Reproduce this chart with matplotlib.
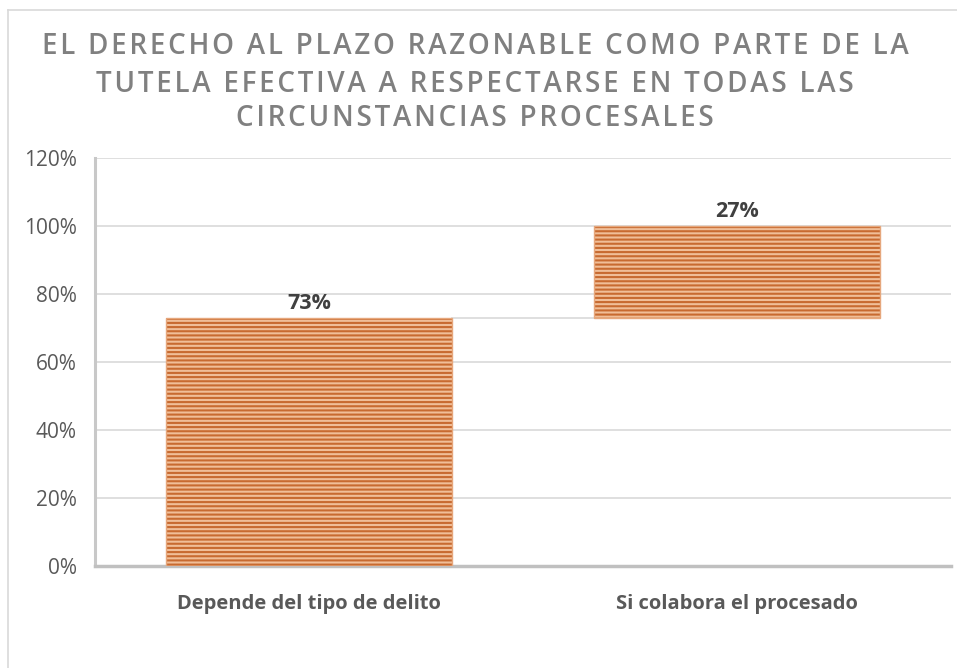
import matplotlib
matplotlib.use("Agg")
import matplotlib.pyplot as plt
from matplotlib.lines import Line2D

categories = ["Depende del tipo de delito", "Si colabora el procesado"]
values = [73, 27]
labels = ["73%", "27%"]
yticks = [0, 20, 40, 60, 80, 100, 120]
title = "EL DERECHO AL PLAZO RAZONABLE COMO PARTE DE LA\nTUTELA EFECTIVA A RESPECTARSE EN TODAS LAS\nCIRCUNSTANCIAS PROCESALES"

plt.rcParams['font.family'] = ['Open Sans', 'DejaVu Sans']
plt.rcParams['hatch.linewidth'] = 1.5

W, H = 957, 668
fig = plt.figure(figsize=(W/100, H/100), dpi=100)
ax = fig.add_axes([95/W, 1-566/H, (951-95)/W, (566-158)/H])

bottoms = [0]
for v in values[:-1]:
    bottoms.append(bottoms[-1] + v)
x = list(range(len(categories)))
ax.bar(x, values, bottom=bottoms, width=0.67, color='#F0BE98',
       edgecolor='#C86A30', linewidth=0, hatch='----', zorder=3)
ax.bar(x, values, bottom=bottoms, width=0.67, fill=False,
       edgecolor='#E6A77C', linewidth=1.0, zorder=4)

# connector
for i in range(len(values)-1):
    top = bottoms[i] + values[i]
    ax.plot([x[i] + 0.335, x[i+1] - 0.335], [top, top], color='#D9D9D9', lw=1.2, zorder=2)

for xi, b, v, lab in zip(x, bottoms, values, labels):
    ax.text(xi, b + v + 1.2, lab, ha='center', va='bottom', fontsize=15.5,
            fontweight='bold', color='#404040')

ax.set_xlim(-0.5, 1.5)
ax.set_ylim(0, 120)
ax.set_yticks(yticks)
ax.set_yticklabels([f"{t}%" for t in yticks], fontsize=15, color='#595959')
ax.set_xticks(x)
ax.set_xticklabels(categories, fontsize=14.5, fontweight='bold', color='#595959')
ax.tick_params(axis='y', length=0, pad=13)
ax.tick_params(axis='x', length=0, pad=20)
ax.grid(axis='y', color='#D9D9D9', lw=1.2, zorder=0)
ax.set_axisbelow(True)
for s in ['top', 'right']:
    ax.spines[s].set_visible(False)
ax.spines['left'].set_color('#C8C8C8')
ax.spines['left'].set_linewidth(2.2)
ax.spines['bottom'].set_color('#C0C0C0')
ax.spines['bottom'].set_linewidth(2.5)

# title with letter spacing
spaced_lines = ["\u200a".join(line) for line in title.split("\n")]
for yy, line in zip([47, 84, 119], spaced_lines):
    fig.text(475/W, 1-yy/H, line, ha='center', va='center', fontsize=20,
             fontweight='semibold', color='#808080')

# outer border
fig.add_artist(Line2D([8/W, 8/W], [0, 1-10/H], color='#D9D9D9', lw=1.2, transform=fig.transFigure))
fig.add_artist(Line2D([8/W, 1], [1-10/H, 1-10/H], color='#D9D9D9', lw=1.2, transform=fig.transFigure))

fig.savefig("out.png", dpi=100)
